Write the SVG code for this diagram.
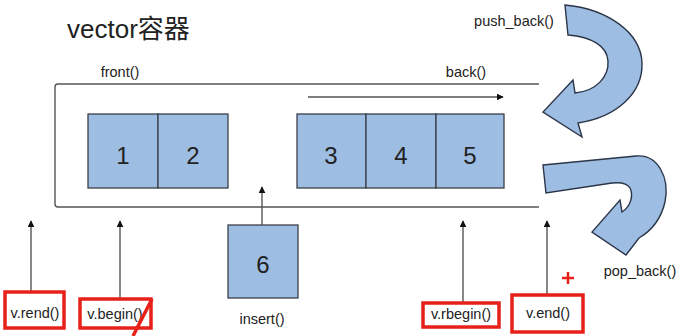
<svg xmlns="http://www.w3.org/2000/svg" width="681" height="336" viewBox="0 0 681 336">
<style>
text{font-family:"Liberation Sans",Arial,"Noto Sans CJK SC",sans-serif;fill:#222}
.lbl{font-size:14.5px;text-anchor:middle}
.num{font-size:24px;text-anchor:middle}
.cell{fill:#9dbde3;stroke:#3a3f48;stroke-width:1.3}
.ln{stroke:#555;stroke-width:1.4;fill:none}
.red{fill:none;stroke:#e8201a;stroke-width:3.5}
.curl{fill:#9dbde3;stroke:#2b3548;stroke-width:1.4;stroke-linejoin:miter}
</style>
<defs>
<marker id="ah" viewBox="0 0 10 10" refX="9" refY="5" markerWidth="7" markerHeight="7" markerUnits="userSpaceOnUse" orient="auto">
<path d="M0,0 L10,5 L0,10 Z" fill="#111"/>
</marker>
</defs>
<text x="67" y="38" style="font-size:26px">vector容器</text>
<g id="container">
<path class="ln" d="M539,84 L58,84 Q55,84 55,87 L55,204 Q55,207 58,207 L539,207"/>
</g>
<g id="node-1"><rect class="cell" x="88" y="114" width="70" height="74"/><text class="num" x="123" y="164">1</text></g>
<g id="node-2"><rect class="cell" x="158" y="114" width="70" height="74"/><text class="num" x="193" y="164">2</text></g>
<g id="node-3"><rect class="cell" x="297" y="114" width="69" height="74"/><text class="num" x="331" y="164">3</text></g>
<g id="node-4"><rect class="cell" x="366" y="114" width="70" height="74"/><text class="num" x="401" y="164">4</text></g>
<g id="node-5"><rect class="cell" x="436" y="114" width="68" height="74"/><text class="num" x="470" y="164">5</text></g>
<g id="node-6"><rect class="cell" x="228" y="225" width="70" height="73"/><text class="num" x="263" y="273">6</text></g>
<g id="push-back">
<path class="curl" d="M565,5 C607,9 641,32 642,63 C643,93 617,117 578,123 L582,137 L543,112 L573,80 L575,93 C597,91 609,76 608,61 C607,46 592,37 568,35 Z"/>
</g>
<g id="pop-back">
<path class="curl" d="M543,165 L636,156 C658,154 670,178 665,202 C661,219 651,231 639,238 L626,255 L592,232 L620,200 L622,212 C630,207 634,196 630,188 C627,183 621,182 612,183 L546,193 Z"/>
</g>
<g id="connectors">
<line class="ln" x1="308" y1="97" x2="503" y2="97" marker-end="url(#ah)"/>
<line class="ln" x1="262" y1="225" x2="262" y2="187" marker-end="url(#ah)"/>
<line class="ln" x1="31" y1="292" x2="31" y2="221" marker-end="url(#ah)"/>
<line class="ln" x1="120" y1="299" x2="120" y2="221" marker-end="url(#ah)"/>
<line class="ln" x1="463" y1="303" x2="463" y2="221" marker-end="url(#ah)"/>
<line class="ln" x1="547" y1="295" x2="547" y2="221" marker-end="url(#ah)"/>
</g>
<g id="labels">
<text class="lbl" x="120" y="77">front()</text>
<text class="lbl" x="466" y="77">back()</text>
<text class="lbl" x="514" y="26">push_back()</text>
<text class="lbl" x="640" y="276">pop_back()</text>
<text class="lbl" x="262" y="324">insert()</text>
</g>
<g id="v-rend"><rect class="red" x="5" y="292" width="59" height="36"/><text class="lbl" x="35" y="318">v.rend()</text></g>
<g id="v-begin"><rect class="red" x="80" y="299" width="71" height="29"/><text class="lbl" x="115" y="319">v.begin()</text>
<line class="red" x1="152" y1="299" x2="133" y2="336"/></g>
<g id="v-rbegin"><rect class="red" x="423" y="303" width="76" height="24"/><text class="lbl" x="461" y="319">v.rbegin()</text></g>
<g id="v-end"><rect class="red" x="512" y="295" width="71" height="37"/><text class="lbl" x="548" y="318">v.end()</text>
<path d="M568,272 V284 M562,278 H574" stroke="#e8201a" stroke-width="2.5" fill="none"/></g>
</svg>
